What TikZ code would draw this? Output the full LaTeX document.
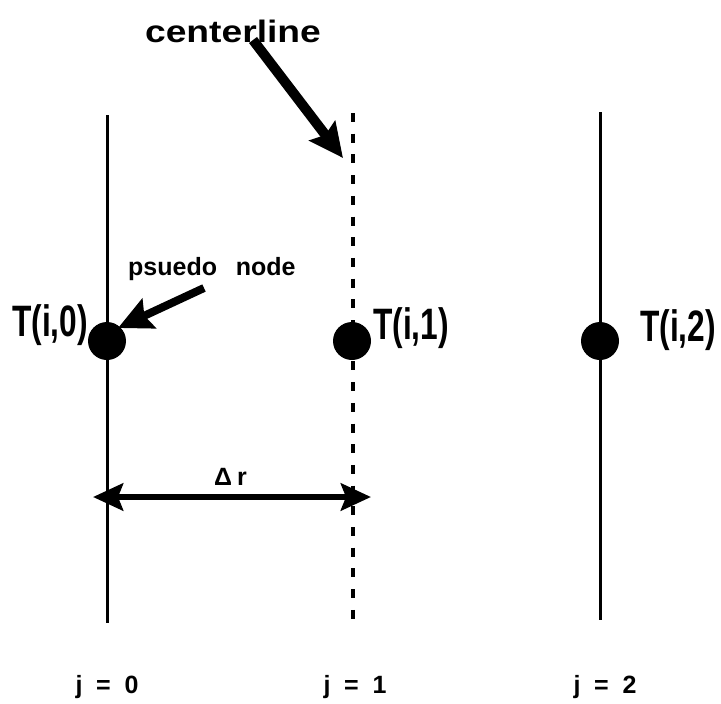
\documentclass[tikz,border=0pt]{standalone}
\usepackage{fontspec}
\setmainfont{Liberation Sans}
\usetikzlibrary{arrows.meta}
\begin{document}
\begin{tikzpicture}[x=1pt,y=-1pt,
  gridline/.style={line width=3pt},
  centerdash/.style={line width=4pt,dash pattern=on 9pt off 11.7pt},
  tempdot/.style={circle,fill=black,inner sep=0pt,minimum size=38pt},
  lbl/.style={font=\fontsize{44}{44}\selectfont\bfseries,inner sep=0pt,xscale=0.72},
  note/.style={font=\fontsize{25}{25}\selectfont\bfseries,inner sep=0pt},
  bigarrow/.style={line width=10pt,-{Stealth[length=34pt,width=32pt,inset=5pt]}},
  dimarrow/.style={line width=6.5pt,{Stealth[length=30pt,width=27pt,inset=5pt]}-{Stealth[length=30pt,width=27pt,inset=5pt]}}]
\useasboundingbox (0,0) rectangle (721,704);

% radial grid lines
\coordinate (l0top) at (107,115); \coordinate (l0bot) at (107,623);
\coordinate (l1top) at (353,113); \coordinate (l1bot) at (353,622);
\coordinate (l2top) at (600,112); \coordinate (l2bot) at (600,620);
\draw[gridline] (l0top) -- (l0bot);
\draw[centerdash] (l1top) -- (l1bot);
\draw[gridline] (l2top) -- (l2bot);

% nodes
\node[tempdot] (n0) at (107,341) {};
\node[tempdot] (n1) at (352,341) {};
\node[tempdot] (n2) at (600,341) {};

\node[lbl,anchor=east] (t0) at (88,325) {T(i,0)};
\node[lbl,anchor=west] (t1) at (373,328) {T(i,1)};
\node[lbl,anchor=west] (t2) at (640,330) {T(i,2)};

% annotations
\node[font=\fontsize{31}{31}\selectfont\bfseries,inner sep=0pt,xscale=1.2,anchor=base] (cl) at (233,42) {centerline};
\coordinate (cltail) at (253,40);
\coordinate (cltip) at (343,158);
\draw[bigarrow] (cltail) -- (cltip);

\node[note,anchor=base west] (pn) at (128,275) {psuedo\hspace{0.75em}node};
\coordinate (pntail) at (204,288);
\coordinate (pntip) at (118,328);
\draw[bigarrow,line width=8pt] (pntail) -- (pntip);

% spacing between j = 0 and j = 1
\coordinate (dl) at (93,497);
\coordinate (dr) at (371,497);
\draw[dimarrow] (dl) -- (dr);
\node[note,anchor=base west] (delta) at (214,485) {Δ\hspace{0.2em}r};

% column indices
\node[note,anchor=base] (j0) at (107,693) {j\hspace{0.55em}=\hspace{0.55em}0};
\node[note,anchor=base] (j1) at (355,693) {j\hspace{0.55em}=\hspace{0.55em}1};
\node[note,anchor=base] (j2) at (605,693) {j\hspace{0.55em}=\hspace{0.55em}2};
\end{tikzpicture}
\end{document}
